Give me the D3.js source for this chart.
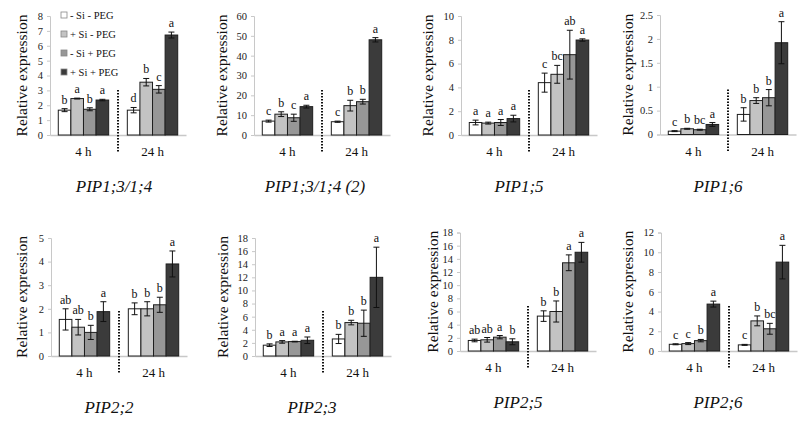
<!DOCTYPE html>
<html><head><meta charset="utf-8">
<script src="https://cdn.jsdelivr.net/npm/d3@7"></script>
<style>
body{margin:0;background:#fff}svg{display:block}
svg text{font-family:"Liberation Serif","DejaVu Serif","Times New Roman",Times,serif;}
</style></head>
<body>
<svg id="c" width="800" height="421"></svg>
<script>
// ---------- DATA ----------
const times = ["4 h", "24 h"];
const treatments = ["- Si - PEG", "+ Si - PEG", "- Si + PEG", "+ Si + PEG"];
const genes = ["PIP1;3/1;4", "PIP1;3/1;4 (2)", "PIP1;5", "PIP1;6", "PIP2;2", "PIP2;3", "PIP2;5", "PIP2;6"];
const yMax = [8, 60, 10, 2.5, 5, 18, 18, 12];
const yTickStep = [1, 10, 2, 0.5, 1, 2, 2, 2];

const means4h = [
  [1.67, 2.45, 1.73, 2.35],
  [7.0, 10.5, 8.7, 14.3],
  [1.05, 1.0, 1.05, 1.38],
  [0.07, 0.12, 0.10, 0.21],
  [1.55, 1.22, 1.00, 1.88],
  [1.65, 2.15, 2.20, 2.40],
  [1.60, 1.70, 2.10, 1.40],
  [0.68, 0.75, 1.05, 4.75]
];
const err4h = [
  [0.10, 0.03, 0.10, 0.05],
  [0.5, 1.2, 1.8, 0.7],
  [0.20, 0.08, 0.25, 0.28],
  [0.01, 0.01, 0.01, 0.04],
  [0.45, 0.33, 0.30, 0.42],
  [0.20, 0.20, 0.05, 0.50],
  [0.20, 0.35, 0.25, 0.45],
  [0.05, 0.10, 0.12, 0.30]
];
const letters4h = [
  ["b", "a", "b", "a"],
  ["c", "b", "c", "a"],
  ["a", "a", "a", "a"],
  ["c", "b", "bc", "a"],
  ["ab", "ab", "b", "a"],
  ["b", "a", "a", "a"],
  ["ab", "ab", "a", "b"],
  ["c", "c", "b", "a"]
];
const means24h = [
  [1.67, 3.55, 3.07, 6.72],
  [6.7, 14.8, 16.8, 48.0],
  [4.4, 5.1, 6.75, 7.98],
  [0.42, 0.71, 0.77, 1.92],
  [2.00, 2.00, 2.17, 3.90],
  [2.6, 5.1, 5.0, 12.0],
  [5.3, 6.0, 13.4, 15.0],
  [0.62, 3.05, 2.25, 9.0]
];
const err24h = [
  [0.18, 0.25, 0.25, 0.20],
  [0.3, 2.7, 1.2, 1.1],
  [0.8, 0.75, 2.05, 0.10],
  [0.14, 0.06, 0.17, 0.44],
  [0.25, 0.30, 0.32, 0.55],
  [0.7, 0.35, 2.0, 4.6],
  [0.8, 1.6, 1.2, 1.5],
  [0.05, 0.50, 0.55, 1.70]
];
const letters24h = [
  ["d", "b", "c", "a"],
  ["c", "b", "b", "a"],
  ["c", "bc", "ab", "a"],
  ["b", "b", "b", "a"],
  ["b", "b", "b", "a"],
  ["b", "b", "b", "a"],
  ["b", "b", "a", "a"],
  ["c", "b", "bc", "a"]
];

// ---------- LAYOUT / STYLE ----------
const layout = [
  {ax: 50, y0: 135, yt: 16, td: -23, gx: 64},
  {ax: 254, y0: 135, yt: 16, td: -27, gx: 61},
  {ax: 461, y0: 135, yt: 16, td: -28, gx: 58},
  {ax: 660, y0: 134.5, yt: 15, td: -27, gx: 58},
  {ax: 51, y0: 356, yt: 238, td: -24, gx: 58},
  {ax: 255, y0: 356, yt: 238, td: -27, gx: 57},
  {ax: 460, y0: 351, yt: 232.5, td: -22, gx: 58},
  {ax: 661, y0: 351, yt: 232.5, td: -28, gx: 57}
];
const fills = ["#ffffff", "#c3c3c3", "#979797", "#3b3b3b"];

const svg = d3.select("#c");

genes.forEach((gene, gi) => {
  const L = layout[gi];
  const g = svg.append("g");
  const plotW = 136;
  const x0 = d3.scaleBand().domain(times).range([L.ax, L.ax + plotW]).paddingInner(0.27).paddingOuter(0.12);
  const x1 = d3.scaleBand().domain(treatments).range([0, x0.bandwidth()]).padding(0);
  const y = d3.scaleLinear().domain([0, yMax[gi]]).range([L.y0, L.yt]);
  const ticks = d3.range(0, yMax[gi] + yTickStep[gi] / 2, yTickStep[gi]);

  // y axis
  const yAxis = d3.axisLeft(y).tickValues(ticks).tickSize(3).tickPadding(4)
    .tickFormat(d => d3.format("~g")(d));
  const ya = g.append("g").attr("transform", `translate(${L.ax},0)`).call(yAxis);
  ya.attr("font-family", null);
  ya.select(".domain").attr("stroke", "#c8c8c8");
  ya.selectAll(".tick line").attr("stroke", "#c8c8c8");
  ya.selectAll(".tick text").attr("font-size", 10.5).attr("fill", "#222");

  // x baseline
  const xAxis = d3.axisBottom(x0).tickSize(0).tickPadding(12);
  const xa = g.append("g").attr("transform", `translate(0,${L.y0})`).call(xAxis);
  xa.attr("font-family", null);
  xa.select(".domain").attr("stroke", "#c8c8c8").attr("stroke-width", 1.5);
  xa.selectAll(".tick text").attr("font-size", 13).attr("fill", "#111");

  // y title
  g.append("text")
    .attr("transform", `translate(${L.ax + L.td},${(L.y0 + L.yt) / 2}) rotate(-90)`)
    .attr("text-anchor", "middle")
    .attr("font-size", 15.5).attr("fill", "#111")
    .text("Relative expression");

  // bars
  const groups = [
    {t: times[0], m: means4h[gi], e: err4h[gi], l: letters4h[gi]},
    {t: times[1], m: means24h[gi], e: err24h[gi], l: letters24h[gi]}
  ];
  groups.forEach(grp => {
    treatments.forEach((tr, ti) => {
      const bx = x0(grp.t) + x1(tr);
      const bw = x1.bandwidth();
      const v = grp.m[ti], e = grp.e[ti];
      g.append("rect")
        .attr("x", bx).attr("y", y(v))
        .attr("width", bw).attr("height", y(0) - y(v))
        .attr("fill", fills[ti]).attr("stroke", "#1e1e1e").attr("stroke-width", 1);
      const cx = bx + bw / 2;
      const eb = g.append("g").attr("stroke", "#111").attr("stroke-width", 1);
      eb.append("line").attr("x1", cx).attr("x2", cx).attr("y1", y(v - e)).attr("y2", y(v + e));
      eb.append("line").attr("x1", cx - 3).attr("x2", cx + 3).attr("y1", y(v - e)).attr("y2", y(v - e));
      eb.append("line").attr("x1", cx - 3).attr("x2", cx + 3).attr("y1", y(v + e)).attr("y2", y(v + e));
      g.append("text")
        .attr("x", cx).attr("y", y(v + e) - 5)
        .attr("text-anchor", "middle")
        .attr("font-size", 12).attr("fill", "#111")
        .text(grp.l[ti]);
    });
  });

  // dotted separator
  const sepX = (x0(times[0]) + x0.bandwidth() + x0(times[1])) / 2;
  g.append("line")
    .attr("x1", sepX).attr("x2", sepX)
    .attr("y1", L.y0 - 45).attr("y2", L.y0 + 18)
    .attr("stroke", "#111").attr("stroke-width", 2).attr("stroke-dasharray", "1.5,1.5");

  // gene label
  g.append("text")
    .attr("x", L.ax + L.gx).attr("y", L.y0 + 57)
    .attr("text-anchor", "middle")
    .attr("font-style", "italic").attr("font-size", 17).attr("fill", "#111")
    .text(gene);

  // legend only on first panel
  if (gi === 0) {
    const lg = g.append("g");
    treatments.forEach((tr, ti) => {
      const cy = 15 + ti * 19;
      lg.append("rect").attr("x", 61).attr("y", cy - 3).attr("width", 6).attr("height", 6)
        .attr("fill", fills[ti]).attr("stroke", "#888").attr("stroke-width", 0.8);
      lg.append("text").attr("x", 70).attr("y", cy + 3.5)
        .attr("font-size", 10.5).attr("fill", "#111")
        .text(tr);
    });
  }
});
</script>
</body></html>
